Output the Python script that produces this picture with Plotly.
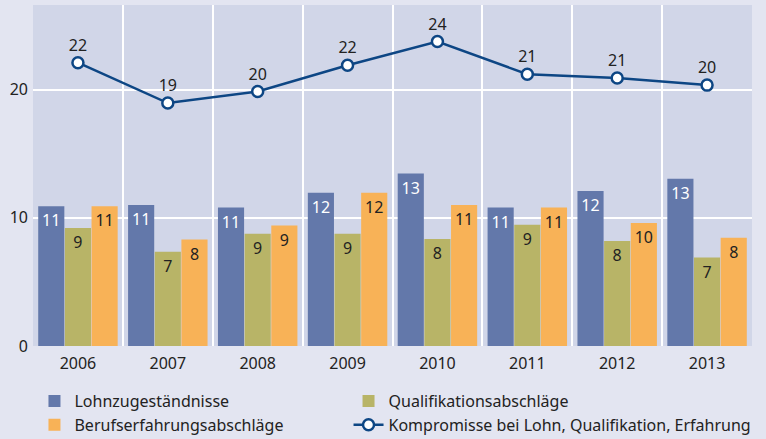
import plotly.graph_objects as go

years = ["2006", "2007", "2008", "2009", "2010", "2011", "2012", "2013"]
lohn = [10.9, 11.0, 10.8, 11.95, 13.45, 10.8, 12.1, 13.05]
qualifikation = [9.2, 7.35, 8.75, 8.75, 8.35, 9.45, 8.2, 6.9]
erfahrung = [10.9, 8.3, 9.4, 11.95, 11.0, 10.8, 9.6, 8.45]
kompromisse = [22.1, 18.95, 19.85, 21.9, 23.75, 21.2, 20.9, 20.35]

names = [
    "Lohnzugeständnisse",
    "Qualifikationsabschläge",
    "Berufserfahrungsabschläge",
    "Kompromisse bei Lohn, Qualifikation, Erfahrung",
]

BLUE = "#6378aa"
OLIVE = "#b8b467"
ORANGE = "#f8b257"
NAVY = "#0d4684"
TEXT = "#222222"
FONT = "Noto Sans, sans-serif"

fig = go.Figure()


def add_bars(vals, name, color, txtcolor, legend):
    fig.add_trace(go.Bar(
        x=years, y=vals, name=name, legend=legend,
        marker=dict(color=color, line=dict(width=0)),
        text=[f"{round(v)}" for v in vals],
        textposition="inside", insidetextanchor="end", textangle=0,
        textfont=dict(color=txtcolor, size=16, family=FONT),
    ))


add_bars(lohn, names[0], BLUE, "white", "legend")
add_bars(qualifikation, names[1], OLIVE, TEXT, "legend2")
add_bars(erfahrung, names[2], ORANGE, TEXT, "legend")

fig.add_trace(go.Scatter(
    x=years, y=kompromisse, name=names[3], legend="legend2",
    mode="lines+markers+text",
    line=dict(color=NAVY, width=2.5),
    marker=dict(color="white", size=11, line=dict(color=NAVY, width=2.5)),
    text=[f"{round(v)}" for v in kompromisse],
    textposition="top center",
    textfont=dict(color=TEXT, size=16, family=FONT),
))

legend_style = dict(
    orientation="v", y=0.125, xref="container", yref="container",
    xanchor="left", yanchor="top", itemwidth=30,
    font=dict(size=16, color=TEXT), bgcolor="rgba(0,0,0,0)",
    traceorder="normal",
)

fig.update_layout(
    width=766, height=439,
    barmode="group", bargap=0.11, bargroupgap=0.02,
    paper_bgcolor="#e3e5f1",
    plot_bgcolor="#d1d6e8",
    font=dict(family=FONT, color=TEXT, size=16),
    margin=dict(l=33, r=14, t=5, b=93, autoexpand=False),
    showlegend=True,
    legend=dict(x=0.045, **legend_style),
    legend2=dict(x=0.455, **legend_style),
    xaxis=dict(
        type="category", tickson="boundaries", showgrid=True,
        gridcolor="white", gridwidth=2, ticks="", showline=False,
        tickfont=dict(size=16, color=TEXT), automargin=False,
        ticklabelstandoff=6,
    ),
    yaxis=dict(
        range=[0, 26.6], tickvals=[0, 10, 20], showgrid=True,
        gridcolor="white", gridwidth=2, zeroline=False, ticks="",
        tickfont=dict(size=16, color=TEXT), ticklabelstandoff=4,
        automargin=False,
    ),
)

fig.write_html(
    "out.html",
    config={"displayModeBar": False},
    post_script="document.body.style.margin = '0';",
)
